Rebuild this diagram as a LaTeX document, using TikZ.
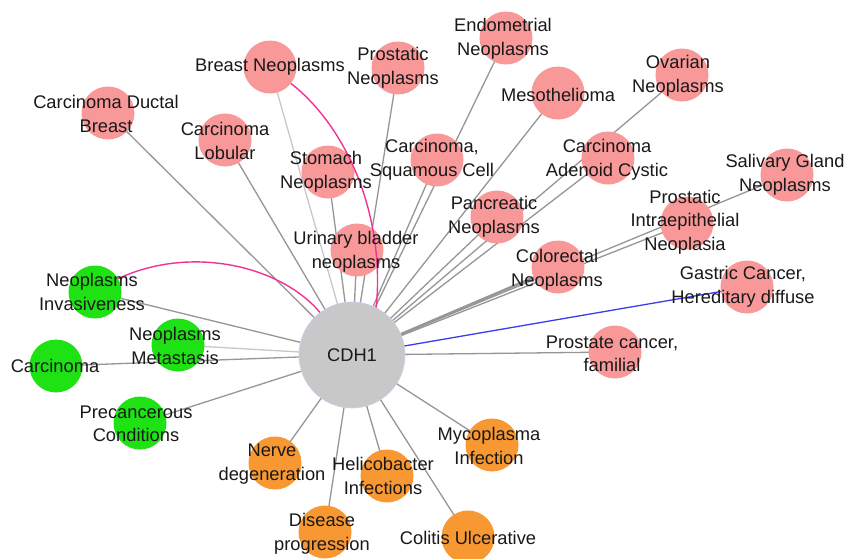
\documentclass[tikz,border=0pt]{standalone}
\usepackage{fontspec}
\setmainfont{Liberation Sans}
\pgfdeclarelayer{back}
\pgfdeclarelayer{bg}
\pgfsetlayers{back,bg,main}
\definecolor{pinkfill}{RGB}{249,152,152}
\definecolor{greenfill}{RGB}{30,226,20}
\definecolor{orangefill}{RGB}{248,152,50}
\definecolor{hubfill}{RGB}{200,200,200}
\definecolor{hubline}{RGB}{205,205,240}
\definecolor{edgegray}{RGB}{150,150,150}
\definecolor{edgelight}{RGB}{200,200,200}
\definecolor{arcpink}{RGB}{240,50,150}
\definecolor{edgeblue}{RGB}{60,60,235}
\definecolor{txt}{RGB}{25,25,25}
\tikzset{
  disc/.style={circle,minimum size=53pt,inner sep=0pt,draw=none},
  pk/.style={disc,fill=pinkfill},
  gr/.style={disc,fill=greenfill},
  og/.style={disc,fill=orangefill},
  hub/.style={circle,minimum size=106pt,inner sep=0pt,fill=hubfill,draw=hubline,line width=0.6pt},
  lbl/.style={align=center,inner sep=0pt,text=txt,font=\fontsize{18.3}{23.5}\selectfont},
  edge/.style={draw=edgegray,line width=1.3pt},
  ledge/.style={draw=edgelight,line width=1.3pt},
  pinkarc/.style={draw=arcpink,line width=1.4pt},
  blueedge/.style={draw=edgeblue,line width=1.3pt}
}
\begin{document}
\begin{tikzpicture}[x=1pt,y=-1pt]
\begin{pgfonlayer}{back}
\fill[white] (0,0) rectangle (847,558);
\end{pgfonlayer}
\useasboundingbox (0,0) rectangle (847,558);
% circles
\node[hub] (cdh) at (352,355) {};
\node[pk] (bn) at (270,67) {};
\node[pk] (cdb) at (108,113) {};
\node[pk] (cl) at (225,140) {};
\node[pk] (pn) at (398,68) {};
\node[pk] (sn) at (328,172) {};
\node[pk] (ub) at (357,250) {};
\node[pk] (csq) at (437,160) {};
\node[pk] (en) at (506,38) {};
\node[pk] (me) at (558,93) {};
\node[pk] (ov) at (682,75) {};
\node[pk] (cac) at (608,158) {};
\node[pk] (sg) at (787,175) {};
\node[pk] (pan) at (497,217) {};
\node[pk] (pin) at (687,223) {};
\node[pk] (cr) at (558,267) {};
\node[pk] (gc) at (747,287) {};
\node[pk] (pcf) at (615,352) {};
\node[og] (my) at (492,445) {};
\node[og] (cu) at (468,537) {};
\node[og] (hi) at (387,476) {};
\node[og] (dp) at (325,532) {};
\node[og] (nd) at (275,463) {};
\node[gr] (pc) at (140,423) {};
\node[gr] (ca) at (56,366) {};
\node[gr] (nm) at (178,345) {};
\node[gr] (ni) at (95,292) {};
% edges
\begin{pgfonlayer}{bg}
\foreach \t in {cdb,cl,pn,sn,ub,csq,en,me,ov,cac,sg,pan,pin,pcf,my,cu,hi,dp,nd,pc,ca,ni}
  \draw[edge] (cdh.center) -- (\t.center);
\draw[edge,line width=2.4pt] (cdh.center) -- (cr.center);
\draw[ledge] (cdh.center) -- (bn.center);
\draw[ledge] (cdh.center) -- (nm.center);
\draw[blueedge] (cdh.center) -- (gc.center);
\end{pgfonlayer}
\draw[pinkarc] (bn.-38) .. controls (350,130) and (385,220) .. (cdh.63);
\draw[pinkarc] (ni.30) .. controls (190,245) and (280,265) .. (cdh.127);
% labels
\node[lbl] (cdhT) at (352,355) {CDH1};
\node[lbl] (bnT) at (270,67) {Breast Neoplasms};
\node[lbl] (cdbT) at (106,114) {Carcinoma Ductal\\Breast};
\node[lbl] (clT) at (225,141) {Carcinoma\\Lobular};
\node[lbl] (pnT) at (393,68) {Prostatic\\Neoplasms};
\node[lbl] (snT) at (326,172) {Stomach\\Neoplasms};
\node[lbl] (ubT) at (356,252) {Urinary bladder\\neoplasms};
\node[lbl] (csqT) at (432,160) {Carcinoma,\\Squamous Cell};
\node[lbl] (enT) at (503,39) {Endometrial\\Neoplasms};
\node[lbl] (meT) at (558,95) {Mesothelioma};
\node[lbl] (ovT) at (678,76) {Ovarian\\Neoplasms};
\node[lbl] (cacT) at (607,160) {Carcinoma\\Adenoid Cystic};
\node[lbl] (sgT) at (785,175) {Salivary Gland\\Neoplasms};
\node[lbl] (panT) at (494,217) {Pancreatic\\Neoplasms};
\node[lbl] (pinT) at (685,222) {Prostatic\\Intraepithelial\\Neoplasia};
\node[lbl] (crT) at (557,270) {Colorectal\\Neoplasms};
\node[lbl] (gcT) at (743,287) {Gastric Cancer,\\Hereditary diffuse};
\node[lbl] (pcfT) at (612,354) {Prostate cancer,\\familial};
\node[lbl] (myT) at (489,446) {Mycoplasma\\Infection};
\node[lbl] (cuT) at (468,538) {Colitis Ulcerative};
\node[lbl] (hiT) at (383,476) {Helicobacter\\Infections};
\node[lbl] (dpT) at (322,534) {Disease\\progression};
\node[lbl] (ndT) at (272,464) {Nerve\\degeneration};
\node[lbl] (pcT) at (136,424) {Precancerous\\Conditions};
\node[lbl] (caT) at (55,366) {Carcinoma};
\node[lbl] (nmT) at (175,346) {Neoplasms\\Metastasis};
\node[lbl] (niT) at (92,292) {Neoplasms\\Invasiveness};
\end{tikzpicture}
\end{document}
